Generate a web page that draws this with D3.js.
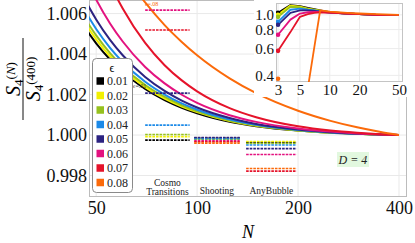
<!DOCTYPE html>
<html>
<head>
<meta charset="utf-8">
<script src="https://cdn.jsdelivr.net/npm/d3@7"></script>
<style>
body{margin:0;background:#fff;}
svg{display:block;font-family:"Liberation Serif","DejaVu Serif",serif;}
</style>
</head>
<body>
<div id="chart"></div>
<script>
// epsilon values and their colours
const epsilons = ["0.01", "0.02", "0.03", "0.04", "0.05", "0.06", "0.07", "0.08"];
const colors = ["#000000", "#f2f000", "#96c11e", "#1c8ae8", "#2c2381", "#e3127f", "#e5132a", "#fb6a0a"];

// main panel: S4(N)/S4(400) against N
const nValues = [46, 50, 55, 60, 70, 80, 90, 100, 125, 150, 200, 250, 300, 350, 400];
const ratio001 = [1.00536, 1.00453, 1.00373, 1.00312, 1.00228, 1.00173, 1.00135, 1.00108, 1.00066, 1.00044, 1.00022, 1.00011, 1.00006, 1.00002, 1.0];
const ratio002 = [1.00560, 1.00473, 1.00389, 1.00326, 1.00237, 1.00180, 1.00141, 1.00113, 1.00069, 1.00046, 1.00023, 1.00012, 1.00006, 1.00002, 1.0];
const ratio003 = [1.00583, 1.00492, 1.00405, 1.00339, 1.00247, 1.00188, 1.00147, 1.00117, 1.00072, 1.00048, 1.00023, 1.00012, 1.00006, 1.00002, 1.0];
const ratio004 = [1.00620, 1.00524, 1.00431, 1.00361, 1.00263, 1.00200, 1.00156, 1.00125, 1.00077, 1.00051, 1.00025, 1.00013, 1.00006, 1.00003, 1.0];
const ratio005 = [1.00676, 1.00571, 1.00470, 1.00394, 1.00287, 1.00218, 1.00170, 1.00136, 1.00084, 1.00055, 1.00027, 1.00014, 1.00007, 1.00003, 1.0];
const ratio006 = [1.00793, 1.00669, 1.00551, 1.00462, 1.00336, 1.00255, 1.00199, 1.00159, 1.00098, 1.00065, 1.00032, 1.00017, 1.00008, 1.00003, 1.0];
const ratio007 = [1.01073, 1.00906, 1.00746, 1.00625, 1.00455, 1.00345, 1.00270, 1.00216, 1.00133, 1.00088, 1.00043, 1.00022, 1.00011, 1.00004, 1.0];
const ratio008 = [1.01143, 1.01026, 1.00905, 1.00806, 1.00655, 1.00543, 1.00460, 1.00394, 1.00280, 1.00207, 1.00120, 1.00070, 1.00038, 1.00016, 1.0];
const ratios = [ratio001, ratio002, ratio003, ratio004, ratio005, ratio006, ratio007, ratio008];

// other codes, one value per epsilon
const codeNames = [["Cosmo", "Transitions"], ["Shooting"], ["AnyBubble"]];
const codeSpans = [[70, 95], [98, 134], [140, 198]];
const cosmoValues = [0.99975, 0.99992, 1.00003, 1.00049, 1.00207, 1.00617, 1.00519, 1.00750];
const shootingValues = [0.99985, 0.99979, 0.99980, 0.99982, 0.99988, 0.99972, 0.99967, 0.99960];
const anyBubbleValues = [0.99963, 0.99968, 0.99958, 0.99951, 0.99933, 0.99904, 0.99822, 0.99835];
const codeValues = [cosmoValues, shootingValues, anyBubbleValues];

// inset: small N
const insetN = [3, 4, 5, 6, 7, 8, 10, 15, 20, 30, 50];
const inset001 = [1.03, 1.16, 1.14, 1.11, 1.09, 1.07, 1.04, 1.02, 1.01, 1.0, 1.0];
const inset002 = [1.0, 1.15, 1.13, 1.10, 1.08, 1.065, 1.04, 1.02, 1.01, 1.0, 1.0];
const inset003 = [0.97, 1.13, 1.12, 1.09, 1.075, 1.06, 1.04, 1.02, 1.01, 1.0, 1.0];
const inset004 = [0.90, 1.08, 1.10, 1.08, 1.07, 1.055, 1.035, 1.02, 1.01, 1.0, 1.0];
const inset005 = [0.86, 1.03, 1.07, 1.07, 1.06, 1.05, 1.035, 1.02, 1.01, 1.0, 1.0];
const inset006 = [0.74, 0.93, 1.02, 1.04, 1.045, 1.045, 1.035, 1.02, 1.01, 1.0, 1.0];
const inset007 = [0.58, 0.77, 0.97, 1.01, 1.03, 1.04, 1.035, 1.02, 1.01, 1.0, 1.0];
const inset008 = [0.38, null, null, 0.33, 0.62, 1.07, 1.05, 1.03, 1.02, 1.01, 1.0];
const insets = [inset001, inset002, inset003, inset004, inset005, inset006, inset007, inset008];

const xTicks = [50, 100, 200, 400];
const yTicks = [0.998, 1.000, 1.002, 1.004, 1.006];
const insetXTicks = [3, 5, 10, 20, 50];
const insetYTicks = [0.4, 0.6, 0.8, 1.0];

const width = 415, height = 243;
const plotLeft = 89, plotRight = 407, plotTop = 0, plotBottom = 197;

const svg = d3.select("#chart").append("svg")
    .attr("width", width)
    .attr("height", height);

svg.append("rect").attr("width", width).attr("height", height).attr("fill", "#fff");

const x = d3.scaleLog().domain([47.6, 422.6]).range([plotLeft, plotRight]);
const y = d3.scaleLinear().domain([0.99694, 1.00667]).range([plotBottom, plotTop]);

svg.append("clipPath").attr("id", "plotClip")
  .append("rect")
    .attr("x", plotLeft).attr("y", plotTop)
    .attr("width", plotRight - plotLeft).attr("height", plotBottom - plotTop);

// grid
svg.append("g")
    .attr("stroke", "#e9e9e9")
    .attr("stroke-width", 1)
    .call(g => g.selectAll(".v").data(xTicks).join("line")
        .attr("x1", d => x(d)).attr("x2", d => x(d))
        .attr("y1", plotTop).attr("y2", plotBottom))
    .call(g => g.selectAll(".h").data(yTicks).join("line")
        .attr("x1", plotLeft).attr("x2", plotRight)
        .attr("y1", d => y(d)).attr("y2", d => y(d)));

// axes (labels only)
svg.append("g")
    .attr("transform", `translate(${plotLeft},0)`)
    .call(d3.axisLeft(y).tickValues(yTicks).tickFormat(d3.format(".3f")).tickSize(0).tickPadding(2))
    .call(g => g.select(".domain").remove())
    .selectAll("text")
      .attr("font-family", "Liberation Serif")
      .attr("font-size", 18)
      .attr("fill", "#111");

svg.append("g")
    .attr("transform", `translate(0,${plotBottom})`)
    .call(d3.axisBottom(x).tickValues(xTicks).tickFormat(d3.format("d")).tickSize(0).tickPadding(4))
    .call(g => g.select(".domain").remove())
    .selectAll("text")
      .attr("font-family", "Liberation Serif")
      .attr("font-size", 18)
      .attr("fill", "#111");

// frame
svg.append("rect")
    .attr("x", plotLeft + 0.5).attr("y", plotTop + 0.5)
    .attr("width", plotRight - plotLeft - 1).attr("height", plotBottom - plotTop - 1)
    .attr("fill", "none")
    .attr("stroke", "#bcbcbc");

// curves
const plot = svg.append("g").attr("clip-path", "url(#plotClip)");

const line = d3.line()
    .x(d => x(d[0]))
    .y(d => y(d[1]))
    .curve(d3.curveMonotoneX);

plot.selectAll("path.curve")
  .data(ratios)
  .join("path")
    .attr("class", "curve")
    .attr("fill", "none")
    .attr("stroke", (d, i) => colors[i])
    .attr("stroke-width", 2)
    .attr("d", d => line(nValues.map((n, j) => [n, d[j]])));

// dashed segments for the other codes
codeValues.forEach((vals, c) => {
  plot.append("g")
    .selectAll("line")
    .data(vals)
    .join("line")
      .attr("x1", x(codeSpans[c][0]))
      .attr("x2", x(codeSpans[c][1]))
      .attr("y1", d => y(d))
      .attr("y2", d => y(d))
      .attr("stroke", (d, i) => colors[i])
      .attr("stroke-width", 1.6)
      .attr("stroke-dasharray", "2.6,1");
});

// small epsilon notes
svg.append("text")
    .attr("x", 145).attr("y", 6)
    .attr("font-size", 6).attr("fill", colors[7])
    .text("ϵ=.08");
svg.append("text")
    .attr("x", 133).attr("y", 88)
    .attr("font-size", 6).attr("fill", "#333")
    .text("ϵ=.01");

// code names
codeNames.forEach((lines, c) => {
  const xm = (x(codeSpans[c][0]) + x(codeSpans[c][1])) / 2;
  const t = svg.append("text")
      .attr("text-anchor", "middle")
      .attr("font-size", 9.5)
      .attr("fill", "#222");
  const y0 = lines.length === 2 ? 185.5 : 194;
  lines.forEach((s, k) => {
    t.append("tspan").attr("x", xm).attr("y", y0 + k * 9.5).text(s);
  });
});

// D = 4 label
svg.append("rect")
    .attr("x", 337).attr("y", 152)
    .attr("width", 32).attr("height", 15)
    .attr("fill", "#e2f8df");
svg.append("text")
    .attr("x", 353).attr("y", 164)
    .attr("text-anchor", "middle")
    .attr("font-size", 12)
    .attr("font-style", "italic")
    .attr("fill", "#222")
    .text("D = 4");

// legend
const legend = svg.append("g");
legend.append("rect")
    .attr("x", 92.5).attr("y", 58.5)
    .attr("width", 40).attr("height", 134)
    .attr("rx", 4)
    .attr("fill", "#fff")
    .attr("stroke", "#8a8a8a");
legend.append("text")
    .attr("x", 112).attr("y", 72)
    .attr("text-anchor", "middle")
    .attr("font-size", 12)
    .text("ϵ");
const items = legend.selectAll("g.item")
  .data(epsilons)
  .join("g")
    .attr("class", "item")
    .attr("transform", (d, i) => `translate(0,${81 + i * 14.5})`);
items.append("rect")
    .attr("x", 96.5).attr("y", -3.75)
    .attr("width", 7.5).attr("height", 7.5)
    .attr("fill", (d, i) => colors[i]);
items.append("text")
    .attr("x", 107).attr("y", 4)
    .attr("font-size", 12)
    .attr("fill", "#222")
    .text(d => d);

// axis titles
svg.append("text")
    .attr("x", 248).attr("y", 238)
    .attr("text-anchor", "middle")
    .attr("font-size", 18)
    .attr("font-style", "italic")
    .text("N");

const yTitle = svg.append("g").attr("transform", "translate(23,79) rotate(-90)");
yTitle.append("line")
    .attr("x1", -41).attr("x2", 41)
    .attr("y1", 0).attr("y2", 0)
    .attr("stroke", "#111").attr("stroke-width", 1);
const num = yTitle.append("text").attr("text-anchor", "middle").attr("y", -3).attr("font-size", 20);
num.append("tspan").attr("font-style", "italic").text("S");
num.append("tspan").attr("font-size", 13).attr("dy", 3).text("4");
num.append("tspan").attr("font-size", 13).attr("dy", -8).text("(");
num.append("tspan").attr("font-size", 13).attr("font-style", "italic").text("N");
num.append("tspan").attr("font-size", 13).text(")");
const den = yTitle.append("text").attr("text-anchor", "middle").attr("y", 17).attr("font-size", 20);
den.append("tspan").attr("font-style", "italic").text("S");
den.append("tspan").attr("font-size", 13).attr("dy", 3).text("4");
den.append("tspan").attr("font-size", 13).attr("dy", -8).text("(400)");

// inset
const ix = d3.scaleLog().domain([2.86, 55]).range([276, 403]);
const iy = d3.scaleLog().domain([0.362, 1.196]).range([82, 3]);

svg.append("rect")
    .attr("x", 254).attr("y", 0)
    .attr("width", plotRight - 254).attr("height", 97)
    .attr("fill", "#fff");

svg.append("clipPath").attr("id", "insetClip")
  .append("rect")
    .attr("x", 276).attr("y", 3)
    .attr("width", 127).attr("height", 79);

svg.append("g")
    .attr("stroke", "#ececec")
    .call(g => g.selectAll(".v").data(insetXTicks).join("line")
        .attr("x1", d => ix(d)).attr("x2", d => ix(d))
        .attr("y1", 3).attr("y2", 82))
    .call(g => g.selectAll(".h").data(insetYTicks).join("line")
        .attr("x1", 276).attr("x2", 403)
        .attr("y1", d => iy(d)).attr("y2", d => iy(d)));

svg.append("g")
    .attr("transform", "translate(276,0)")
    .call(d3.axisLeft(iy).tickValues(insetYTicks).tickFormat(d3.format(".1f")).tickSize(0).tickPadding(2))
    .call(g => g.select(".domain").remove())
    .selectAll("text")
      .attr("font-family", "Liberation Serif")
      .attr("font-size", 15)
      .attr("fill", "#111");

svg.append("g")
    .attr("transform", "translate(0,82)")
    .call(d3.axisBottom(ix).tickValues(insetXTicks).tickFormat(d3.format("d")).tickSize(0).tickPadding(2))
    .call(g => g.select(".domain").remove())
    .selectAll("text")
      .attr("font-family", "Liberation Serif")
      .attr("font-size", 15)
      .attr("fill", "#111");

svg.append("rect")
    .attr("x", 276.5).attr("y", 3.5)
    .attr("width", 126).attr("height", 78)
    .attr("fill", "none")
    .attr("stroke", "#c4c4c4");

const insetPlot = svg.append("g").attr("clip-path", "url(#insetClip)");
const iline = d3.line()
    .defined(d => d[1] != null)
    .x(d => ix(d[0]))
    .y(d => iy(d[1]));

insetPlot.selectAll("path")
  .data(insets)
  .join("path")
    .attr("fill", "none")
    .attr("stroke", (d, i) => colors[i])
    .attr("stroke-width", 1.8)
    .attr("stroke-linejoin", "round")
    .attr("d", d => iline(insetN.map((n, j) => [n, d[j]])));

insetPlot.selectAll("circle")
  .data(insets)
  .join("circle")
    .attr("cx", ix(insetN[0]))
    .attr("cy", d => iy(d[0]))
    .attr("r", 2.3)
    .attr("fill", (d, i) => colors[i]);
</script>
</body>
</html>
